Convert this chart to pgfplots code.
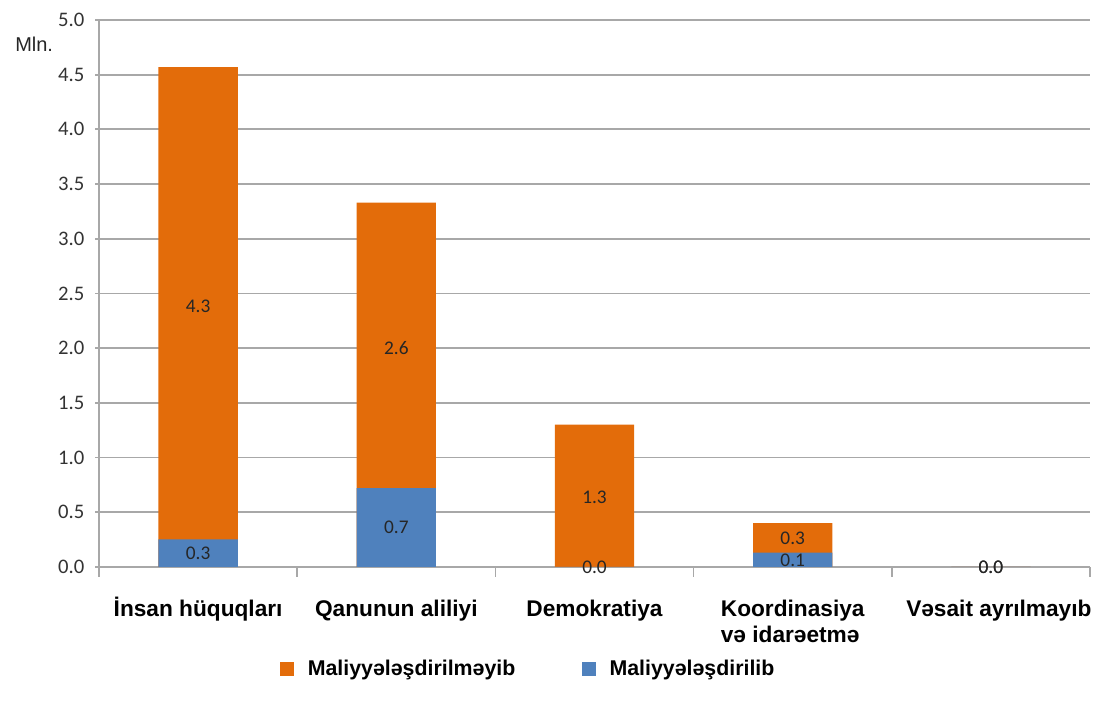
\documentclass[border=0pt]{standalone}
\usepackage{fontspec}
\setmainfont{Liberation Sans}
\newfontfamily\calibri{Carlito}
\usepackage{pgfplots}
\pgfplotsset{compat=1.18}

\definecolor{cOr}{HTML}{E36C0A}
\definecolor{cBl}{HTML}{4F81BD}
\definecolor{cGrid}{HTML}{A8A8A8}

\begin{document}
\begin{tikzpicture}
% page frame: 1px = 0.75pt, axis box at (0,0)-(743pt,410pt)
\useasboundingbox (-74.25pt,-101.25pt) rectangle (750.5pt,425pt);
\begin{axis}[
    at={(0,0)}, anchor=south west,
    scale only axis,
    width=743pt, height=410pt,
    xmin=-0.5, xmax=4.5,
    ymin=0, ymax=5,
    clip=false,
    axis x line*=bottom, axis y line*=left,
    axis line style={cGrid, line width=1.3pt},
    xtick={-0.5,0.5,1.5,2.5,3.5,4.5},
    x tick label as interval,
    xticklabels={{\smash{İ}nsan hüquqları}, Qanunun aliliyi, Demokratiya, {Koordinasiya\\və idarəetmə}, {\hspace*{12pt}Vəsait ayrılmayıb}},
    xticklabel style={anchor=north, align=left, inner sep=0pt, yshift=-20.5pt,
        font=\bfseries\fontsize{17}{19.5}\selectfont},
    xtick style={cGrid, line width=1.3pt, /pgfplots/major tick length=7.5pt},
    ytick={0,0.5,...,5},
    ytick style={cGrid, line width=1.3pt, /pgfplots/major tick length=3pt},
    tick align=outside,
    yticklabel style={anchor=east, inner sep=0pt, xshift=-6.5pt, text=black!80,
        font=\calibri\fontsize{15.5}{18}\selectfont,
        /pgf/number format/.cd, fixed, fixed zerofill, precision=1, assume math mode=true},
    ymajorgrids,
    major grid style={cGrid, line width=1.3pt},
    legend columns=2,
    legend style={at={(0.1826,-0.1865)}, anchor=west, draw=none, fill=none,
        inner sep=0pt, font=\bfseries\fontsize{16}{19}\selectfont,
        nodes={inner sep=0pt, anchor=west},
        /tikz/every odd column/.append style={column sep=10.5pt},
        /tikz/every even column/.append style={column sep=50pt}},
]
% totals (orange, unfunded on top) and funded part (blue) overlaid
\addplot[ybar, bar width=0.4, bar shift=0pt, fill=cOr, draw=none, forget plot]
    coordinates {(0,4.57) (1,3.33) (2,1.30) (3,0.40) (4,0)};
\addplot[ybar, bar width=0.4, bar shift=0pt, fill=cBl, draw=none, forget plot]
    coordinates {(0,0.25) (1,0.72) (2,0) (3,0.13) (4,0)};
% segment labels at segment middles
\addplot[draw=none, mark=none, forget plot, nodes near coords, point meta=explicit symbolic,
    every node near coord/.append style={anchor=center, inner sep=0pt, text=black!85,
        font=\calibri\fontsize{14.5}{16}\selectfont}]
    coordinates {(0,2.38)[4.3] (1,2.0)[2.6] (2,0.64)[1.3] (3,0.26)[0.3] (4,0)[0.0]
                 (0,0.125)[0.3] (1,0.36)[0.7] (2,0)[0.0] (3,0.06)[0.1] (4,0)[0.0]};
\addlegendimage{legend image code/.code={\fill[cOr] (0pt,-4.9pt) rectangle (9.75pt,4.9pt);}}
\addlegendentry{Maliyyələşdirilməyib}
\addlegendimage{legend image code/.code={\fill[cBl] (0pt,-4.9pt) rectangle (9.75pt,4.9pt);}}
\addlegendentry{Maliyyələşdirilib}
\node[anchor=west, inner sep=0pt, text=black!85, font=\fontsize{15}{18}\selectfont]
    at (axis description cs:-0.0848,0.955) {Mln.};
\end{axis}
\end{tikzpicture}
\end{document}
